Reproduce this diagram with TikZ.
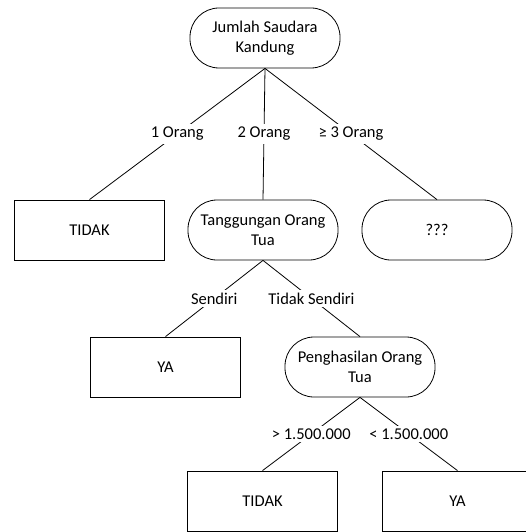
\documentclass[tikz,border=0pt]{standalone}
\usepackage{fontspec}
\setmainfont{Carlito}
\usetikzlibrary{calc}

\begin{document}
\begin{tikzpicture}[
    x=1pt, y=-1pt,
    every node/.style={color=black, font=\fontsize{16.5}{20}\selectfont},
    decision/.style={draw, rounded corners=29pt, minimum width=150pt, minimum height=60pt, align=center, inner sep=0pt, line width=0.8pt},
    leaf/.style={draw, minimum width=150pt, minimum height=60pt, align=center, inner sep=0pt, line width=0.8pt},
    branch line/.style={line width=0.8pt},
    branch label/.style={fill=white, inner sep=3pt}
    ]

    \useasboundingbox (0,0) rectangle (526,532);
    \clip (0,0) rectangle (526,532);

    % decisions
    \node[decision] (saudara) at (265,38) {Jumlah Saudara\\Kandung};
    \node[decision] (tanggungan) at (263,230) {Tanggungan Orang\\Tua};
    \node[decision] (unknown) at (437,230) {???};
    \node[decision] (penghasilan) at (360,367) {Penghasilan Orang\\Tua};
    % leaves
    \node[leaf] (tidak1) at (89.5,230) {TIDAK};
    \node[leaf] (ya1) at (165.5,367) {YA};
    \node[leaf] (tidak2) at (262.5,501) {TIDAK};
    \node[leaf] (ya2) at (457.5,501) {YA};

    % branches
    \draw[branch line] (saudara.south) -- node[branch label] {1 Orang} (tidak1.north);
    \draw[branch line] (saudara.south) -- node[branch label] {2 Orang} (tanggungan.north);
    \draw[branch line] (saudara.south) -- node[branch label] {≥ 3 Orang} (unknown.north);
    \draw[branch line] (tanggungan.south) -- node[branch label] {Sendiri} (ya1.north);
    \draw[branch line] (tanggungan.south) -- node[branch label] {Tidak Sendiri} (penghasilan.north);
    \draw[branch line] (penghasilan.south) -- node[branch label] {> 1.500.000} (tidak2.north);
    \draw[branch line] (penghasilan.south) -- node[branch label] {< 1.500.000} (ya2.north);

\end{tikzpicture}
\end{document}
